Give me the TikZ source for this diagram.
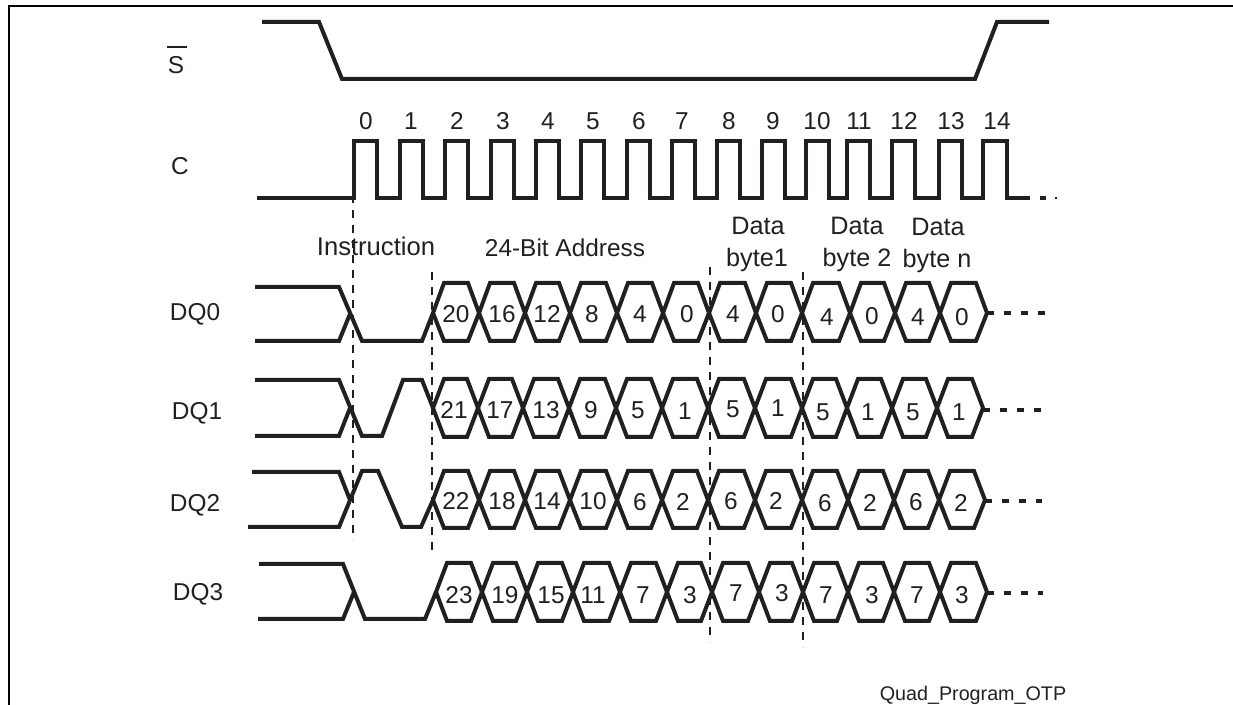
\documentclass[tikz,border=0pt]{standalone}
\usepackage{fontspec}
\setmainfont{Liberation Sans}
\definecolor{ink}{HTML}{231F20}
\tikzset{
  frameline/.style={draw=black,line width=1.8pt},
  wave/.style={draw=ink,line width=3pt,line join=miter},
  guide/.style={draw=ink,line width=1.3pt,dash pattern=on 6pt off 5.25pt},
  tail/.style={draw=ink,line width=3pt,dash pattern=on 5.5pt off 7.25pt},
  lbl/.style={inner sep=0pt,anchor=base,yshift=-6.6pt,text=ink,font=\fontsize{18.3}{20}\selectfont},
  lblbig/.style={lbl,font=\fontsize{19.2}{21}\selectfont},
  lblmid/.style={lbl,font=\fontsize{18.9}{21}\selectfont},
  captext/.style={inner sep=0pt,anchor=base,text=ink,font=\fontsize{14.8}{16}\selectfont}
}
% #1 mid y, #2 top y, #3 bottom y, #4 list of a/b pairs of neighbouring tips
\newcommand{\hexrow}[4]{%
  \foreach \a/\b in {#4}{
    \draw[wave] (\a,#1) -- (\a+11,#2) -- (\b-11,#2) -- (\b,#1) -- (\b-11,#3) -- (\a+11,#3) -- cycle;
  }}
\begin{document}
\begin{tikzpicture}[x=0.75pt,y=-0.75pt]
\useasboundingbox (0,0) rectangle (1233,705);
% frame
\draw[frameline] (9,705) -- (9,6) -- (1233,6);
% guides
\coordinate (g0a) at (353,165); \coordinate (g0b) at (353,540);
\coordinate (g1a) at (432,272); \coordinate (g1b) at (432,552);
\coordinate (g2a) at (710,267); \coordinate (g2b) at (710,642);
\coordinate (g3a) at (803,272); \coordinate (g3b) at (803,647);
\draw[guide] (g0a) -- (g0b);
\draw[guide] (g1a) -- (g1b);
\draw[guide] (g2a) -- (g2b);
\draw[guide] (g3a) -- (g3b);
% S
\draw[wave] (262,22) -- (319,22) -- (342,79) -- (975,79) -- (997,22) -- (1049,22);
% C
\draw[wave] (257,198) -- (354,198)
  \foreach \r/\n in {354/400,400/445,445/491,491/536,536/581,581/627,627/672,672/717,717/762,762/806,806/847,847/892,892/939,939/983}{
    -- (\r,141) -- (\r+23,141) -- (\r+23,198) -- (\n,198)}
  -- (983,141) -- (1007,141) -- (1007,198) -- (1030,198);
\draw[wave] (1040,198) -- (1046,198);
\draw[wave,line width=1.5pt] (1055,198) -- (1057,198);
% DQ0
\draw[wave] (255,287) -- (339,287) -- (362,341) -- (422,341) -- (433,313);
\draw[wave] (255,341) -- (339,341) -- (350,314);
\hexrow{313}{283}{341}{433/479,479/525,525/570,570/617,617/663,663/709,709/756,756/802,802/850,850/895,895/940,940/987}
\draw[tail] (987,313) -- (1045,313);
% DQ1
\draw[wave] (255,380) -- (339,380) -- (362,436) -- (382,436) -- (403,380) -- (422,380) -- (433,408);
\draw[wave] (255,436) -- (339,436) -- (350,408);
\hexrow{408}{379}{437}{433/478,478/523,523/569,569/616,616/662,662/708,708/755,755/802,802/847,847/892,892/937,937/983}
\draw[tail] (983,410) -- (1042,410);
% DQ2
\draw[wave] (252,472) -- (339,472) -- (350,500);
\draw[wave] (248,527) -- (339,527) -- (362,471) -- (378,471) -- (402,527) -- (421,527) -- (433,500);
\hexrow{500}{471}{528}{433/479,479/525,525/570,570/617,617/662,662/708,708/755,755/802,802/848,848/894,894/939,939/985}
\draw[tail] (985,501) -- (1042,501);
% DQ3
\draw[wave] (259,564) -- (343,564) -- (365,619) -- (425,619) -- (436,592);
\draw[wave] (258,619) -- (343,619) -- (354,592);
\hexrow{592}{563}{621}{436/482,482/527,527/573,573/620,620/667,667/712,712/759,759/803,803/848,848/894,894/940,940/987}
\draw[tail] (987,593) -- (1043,593);
% clock numbers
\foreach \x/\t [count=\i] in {366/0,411/1,457/2,503/3,548/4,593/5,639/6,682/7,729/8,773/9,817/10,859/11,904/12,951/13,997/14}
  \node[lbl] (clk\i) at (\x,121) {\t};
% hexagon digits
\foreach \x/\y/\t [count=\i] in {456/314/20,502/314/16,547/314/12,592/314/8,640/314/4,687/314/0,733/314/4,778/314/0,827/317/4,872/316/0,918/317/4,962/317/0}
  \node[lbl] (da\i) at (\x,\y) {\t};
\foreach \x/\y/\t [count=\i] in {454/410/21,500/410/17,546/410/13,591/410/9,638/410/5,685/411/1,733/409/5,778/408/1,823/412/5,868/412/1,913/412/5,959/412/1}
  \node[lbl] (db\i) at (\x,\y) {\t};
\foreach \x/\y/\t [count=\i] in {456/501/22,502/501/18,547/501/14,593/501/10,640/502/6,683/502/2,731/501/6,776/501/2,825/503/6,870/503/2,916/502/6,961/503/2}
  \node[lbl] (dc\i) at (\x,\y) {\t};
\foreach \x/\y/\t [count=\i] in {459/595/23,505/595/19,551/595/15,593/595/11,643/595/7,690/595/3,736/593/7,782/593/3,826/595/7,872/595/3,917/595/7,962/595/3}
  \node[lbl] (dd\i) at (\x,\y) {\t};
% signal names
\node[lbl] (sname) at (176,65) {S};
\draw[draw=ink,line width=1.5pt] (167,47) -- (187,47);
\node[lbl] (cname) at (180,166) {C};
\node[lbl] (q0) at (195,312) {DQ0};
\node[lbl] (q1) at (197,411) {DQ1};
\node[lbl] (q2) at (195,503) {DQ2};
\node[lbl] (q3) at (198,592) {DQ3};
% phase labels
\node[lblbig] (instr) at (376,247) {Instruction};
\node[lbl] (addr) at (565,248) {24-Bit Address};
\node[lblmid] (d1a) at (758,226) {Data};
\node[lblmid] (d1b) at (757,258) {byte1};
\node[lblmid] (d2a) at (857,226) {Data};
\node[lblmid] (d2b) at (857,258) {byte 2};
\node[lblmid] (d3a) at (938,227) {Data};
\node[lblmid] (d3b) at (937,259) {byte n};
\node[captext] (caption) at (973,701) {Quad\_Program\_OTP};
\end{tikzpicture}
\end{document}
